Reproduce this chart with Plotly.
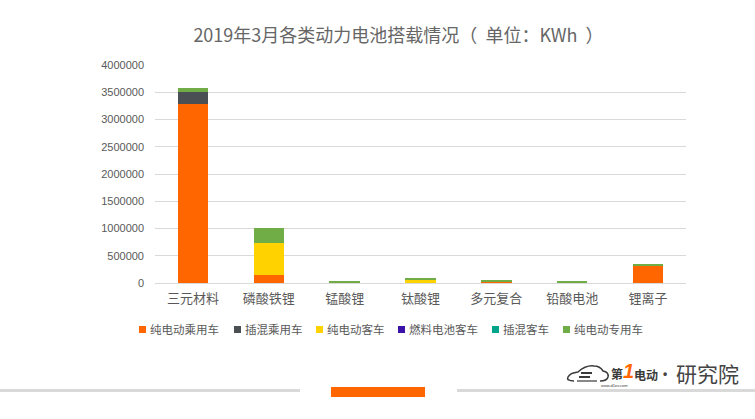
import plotly.graph_objects as go

W, H = 755, 419
M_L, M_R, M_T, M_B = 155, 69, 65, 136  # plot box 155..686 x 65..283
CJK = "Noto Sans CJK SC"
GREY = "#595959"
LOGO = "#3A3A3A"

categories = ["三元材料", "磷酸铁锂", "锰酸锂", "钛酸锂", "多元复合", "铅酸电池", "锂离子"]
series_names = ["纯电动乘用车", "插混乘用车", "纯电动客车", "燃料电池客车", "插混客车", "纯电动专用车"]
series_colors = ["#FF6600", "#4A4F53", "#FFD200", "#3A12A8", "#00A48A", "#70AD47"]

ev_passenger = [3285000, 140000, 0, 0, 30000, 0, 310000]
phev_passenger = [220000, 0, 0, 0, 0, 0, 0]
ev_bus = [0, 600000, 0, 55000, 0, 0, 0]
fuel_cell_bus = [0, 0, 0, 0, 0, 0, 0]
phev_bus = [0, 0, 0, 15000, 0, 0, 0]
ev_special = [73000, 275000, 25000, 10000, 30000, 20000, 45000]
series_values = [ev_passenger, phev_passenger, ev_bus, fuel_cell_bus, phev_bus, ev_special]

# legend swatch left edges, in page pixels
legend_x = [139, 234, 316, 398, 492, 563]


def px(x):
    return (x - M_L) / (W - M_L - M_R)


def py(y):
    return 1 - (y - M_T) / (H - M_T - M_B)


def rect(x0, y0, x1, y1, color):
    return dict(type="rect", xref="paper", yref="paper", x0=px(x0), x1=px(x1), y0=py(y0), y1=py(y1),
                fillcolor=color, line_width=0, layer="above")


def label(x, y, text, size, color=GREY, anchor="left", family=CJK):
    return dict(xref="paper", yref="paper", x=px(x), y=py(y), text=text, showarrow=False,
                xanchor=anchor, yanchor="middle", borderpad=0, font=dict(family=family, size=size, color=color))


def car_path(points):
    # points are page pixels: "M" start, then quadratic segments (control, end)
    start = points[0]
    d = "M %.4f %.4f" % (px(start[0]), py(start[1]))
    for ctrl, end in points[1:]:
        d += " Q %.4f %.4f %.4f %.4f" % (px(ctrl[0]), py(ctrl[1]), px(end[0]), py(end[1]))
    return d


fig = go.Figure()
for name, color, values in zip(series_names, series_colors, series_values):
    fig.add_trace(go.Bar(x=categories, y=values, name=name, marker=dict(color=color, line_width=0)))

shapes = [
    rect(0, 389, 300, 392, "#D9D9D9"),
    rect(457, 389, W, 392, "#D9D9D9"),
    rect(331, 387, 425, 397, "#FF6600"),
]
annotations = []

for x, name, color in zip(legend_x, series_names, series_colors):
    shapes.append(rect(x, 326, x + 7, 333, color))
    annotations.append(label(x + 9.5, 329, name, 11.5))

# logo, rough car outline plus text
outline = [(574, 381), ((566, 381), (568, 377)), ((570, 373), (578, 372)), ((586, 365), (594, 366)),
           ((600, 366), (603, 371)), ((609, 372), (608, 377)), ((607, 381), (600, 381))]
shapes.append(dict(type="path", xref="paper", yref="paper", path=car_path(outline),
                   line=dict(color=LOGO, width=1.5), layer="above"))
shapes.append(rect(581, 372, 592, 374, LOGO))
shapes.append(rect(579, 376, 590, 378, LOGO))
shapes.append(rect(577, 380.4, 597, 381.6, LOGO))
annotations += [
    label(610, 373, "<b>第</b>", 12, LOGO),
    label(622, 371, "<b><i>1</i></b>", 20, "#FF6600", family="Liberation Sans"),
    label(633, 374, "<b>电动</b>", 12, LOGO),
    label(600, 385, "www.d1ev.com", 4, LOGO, family="Liberation Sans"),
    label(665, 374, "<b>•</b>", 12, "#444444", anchor="center", family="Liberation Sans"),
    label(675, 373, "研究院", 21, "#444444"),
]

fig.update_layout(
    width=W,
    height=H,
    margin=dict(l=M_L, r=M_R, t=M_T, b=M_B, pad=0),
    paper_bgcolor="white",
    plot_bgcolor="white",
    barmode="stack",
    bargap=0.6,
    showlegend=False,
    title=dict(text="2019年3月各类动力电池搭载情况（\u00a0\u00a0单位：KWh\u00a0\u00a0）", x=398.5 / W, xanchor="center",
               y=1 - 36 / H, yanchor="middle", font=dict(family=CJK, size=18, color="#666666")),
    shapes=shapes,
    annotations=annotations,
)
fig.update_xaxes(tickfont=dict(family=CJK, size=13, color=GREY), ticks="", showgrid=False, ticklabelstandoff=3,
                 showline=True, linecolor="#D9D9D9", linewidth=1)
fig.update_yaxes(range=[0, 4000000], dtick=500000, tickformat="d", ticks="", showline=False, zeroline=False,
                 ticklabelstandoff=10, gridcolor="#D9D9D9", gridwidth=1,
                 tickfont=dict(family="Liberation Sans", size=11, color=GREY))

fig.write_html("out.html", config=dict(displayModeBar=False),
               post_script="document.body.style.margin='0';document.body.style.overflow='hidden';")
